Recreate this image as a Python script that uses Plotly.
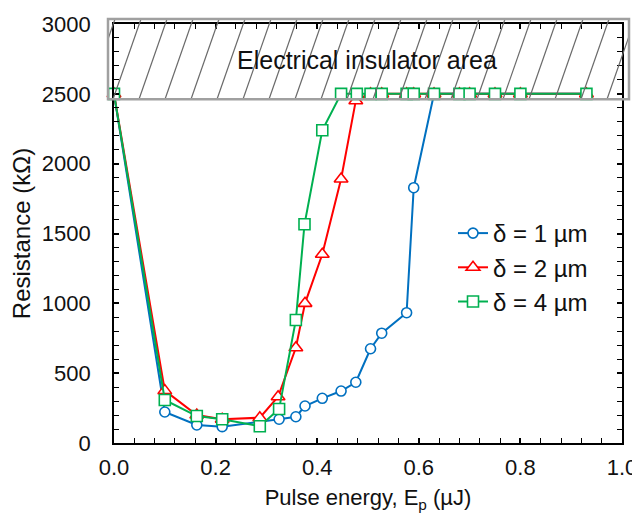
import plotly.graph_objects as go

# ---------------- data ----------------
energy_d1 = [0.0, 0.10, 0.163, 0.213, 0.325, 0.358, 0.376, 0.41, 0.447, 0.476,
             0.505, 0.527, 0.576, 0.59, 0.63, 0.68, 0.70, 0.75, 0.80, 0.93]
res_d1 = [2500, 222, 129, 117, 170, 188, 265, 320, 372, 435,
          675, 786, 933, 1828, 2500, 2500, 2500, 2500, 2500, 2500]

energy_d2 = [0.0, 0.10, 0.163, 0.213, 0.287, 0.323, 0.358, 0.376, 0.41, 0.447, 0.476,
             0.505, 0.527, 0.576, 0.59, 0.63, 0.68, 0.70, 0.75, 0.80, 0.93]
res_d2 = [2500, 375, 200, 170, 181, 331, 682, 1000, 1351, 1890, 2451,
          2500, 2500, 2500, 2500, 2500, 2500, 2500, 2500, 2500, 2500]

energy_d4 = [0.0, 0.10, 0.163, 0.213, 0.287, 0.325, 0.358, 0.375, 0.41, 0.447, 0.478,
             0.505, 0.527, 0.576, 0.59, 0.63, 0.68, 0.70, 0.75, 0.80, 0.93]
res_d4 = [2500, 308, 193, 170, 120, 243, 881, 1566, 2239, 2500, 2500,
          2500, 2500, 2500, 2500, 2500, 2500, 2500, 2500, 2500, 2500]

series_names = ["δ = 1 µm", "δ = 2 µm", "δ = 4 µm"]
insulator_label = "Electrical insulator area"
x_title = "Pulse energy, E<sub>p</sub> (µJ)"
y_title = "Resistance (kΩ)"

# ---------------- layout geometry (reference pixel coords) ----------------
OFF = 8                                  # page body margin offset
W, H = 640 - OFF, 513 - OFF
box_left, box_right, box_top, box_bottom = 108, 629, 19, 99.3
ax_left, ax_right = 114, 622
ax_top, ax_bottom = 24, 443

L = box_left - OFF
R = W - (box_right - OFF)
T = box_top - OFF
B = H - (ax_bottom - OFF)
PW, PH = W - L - R, H - T - B


def px(xr):
    return (xr - box_left) / PW


def py(yr):
    return (ax_bottom - yr) / PH


xdom = [px(ax_left), px(ax_right)]
ydom = [0, py(ax_top)]
box_ydom = [py(box_bottom), 1]
box_h = PH * (1 - box_ydom[0])

FONT = "Arial, Liberation Sans, sans-serif"
BLUE, RED, GREEN = "#0070C0", "#FF0000", "#00B050"

fig = go.Figure()

styles = [
    (energy_d1, res_d1, BLUE, "circle", 10),
    (energy_d2, res_d2, RED, "triangle-up", 12),
    (energy_d4, res_d4, GREEN, "square", 11),
]
for (xs, ys, col, sym, sz), name in zip(styles, series_names):
    fig.add_trace(go.Scatter(
        x=xs, y=ys, name=name, mode="lines+markers",
        line=dict(color=col, width=2),
        marker=dict(symbol=sym, size=sz, color="white",
                    line=dict(color=col, width=1.6)),
        cliponaxis=False,
    ))

# hatch lines of the insulator box (decoration, in box pixel coords)
hx, hy = [], []
for k in range(-3, 24):
    b = 5 + 26 * k
    hx += [b, b + 28, None]
    hy += [0, box_h, None]
fig.add_trace(go.Scatter(
    x=hx, y=hy, xaxis="x2", yaxis="y2", mode="lines",
    line=dict(color="#6a6a6a", width=1.2), showlegend=False, hoverinfo="skip",
))

axis_common = dict(
    showline=True, linecolor="black", linewidth=1.8, mirror="ticks",
    ticks="inside", ticklen=5, tickwidth=1.5, tickcolor="black",
    showgrid=False, zeroline=False,
    tickfont=dict(family=FONT, size=22, color="#111"),
    automargin=False,
)

fig.update_layout(
    width=W, height=H,
    margin=dict(l=L, r=R, t=T, b=B),
    paper_bgcolor="white", plot_bgcolor="rgba(0,0,0,0)",
    font=dict(family=FONT, size=22, color="#111"),
    xaxis=dict(domain=xdom, range=[0, 1], tick0=0, dtick=0.2, tickformat=".1f",
               minor=dict(dtick=0.04, ticks="inside", ticklen=5, tickcolor="black", tickwidth=1.3),
               ticklabelstandoff=4,
               title=dict(text=x_title, font=dict(family=FONT, size=22, color="#111"), standoff=12),
               **axis_common),
    yaxis=dict(domain=ydom, range=[0, 3000], tick0=0, dtick=500,
               minor=dict(dtick=100, ticks="inside", ticklen=5, tickcolor="black", tickwidth=1.3),
               ticklabelstandoff=17,
               title=dict(text=y_title, font=dict(family=FONT, size=24, color="#111"), standoff=6),
               **axis_common),
    xaxis2=dict(domain=[0, 1], range=[0, PW], anchor="y2", visible=False, fixedrange=True),
    yaxis2=dict(domain=box_ydom, range=[0, box_h], anchor="x2", visible=False, fixedrange=True),
    legend=dict(x=px(453), y=py(211), xanchor="left", yanchor="top",
                bgcolor="rgba(0,0,0,0)", borderwidth=0,
                font=dict(family=FONT, size=24, color="#111"), tracegroupgap=0),
    showlegend=True,
    shapes=[dict(type="rect", xref="paper", yref="paper", x0=0, x1=1,
                 y0=box_ydom[0], y1=1, line=dict(color="#a0a0a0", width=2.5),
                 fillcolor="rgba(0,0,0,0)", layer="above")],
    annotations=[dict(text=insulator_label, xref="paper", yref="paper",
                      x=px(367), y=py(60), xanchor="center", yanchor="middle",
                      showarrow=False,
                      font=dict(family=FONT, size=25, color="#111"))],
)

fig.write_html("out.html")
